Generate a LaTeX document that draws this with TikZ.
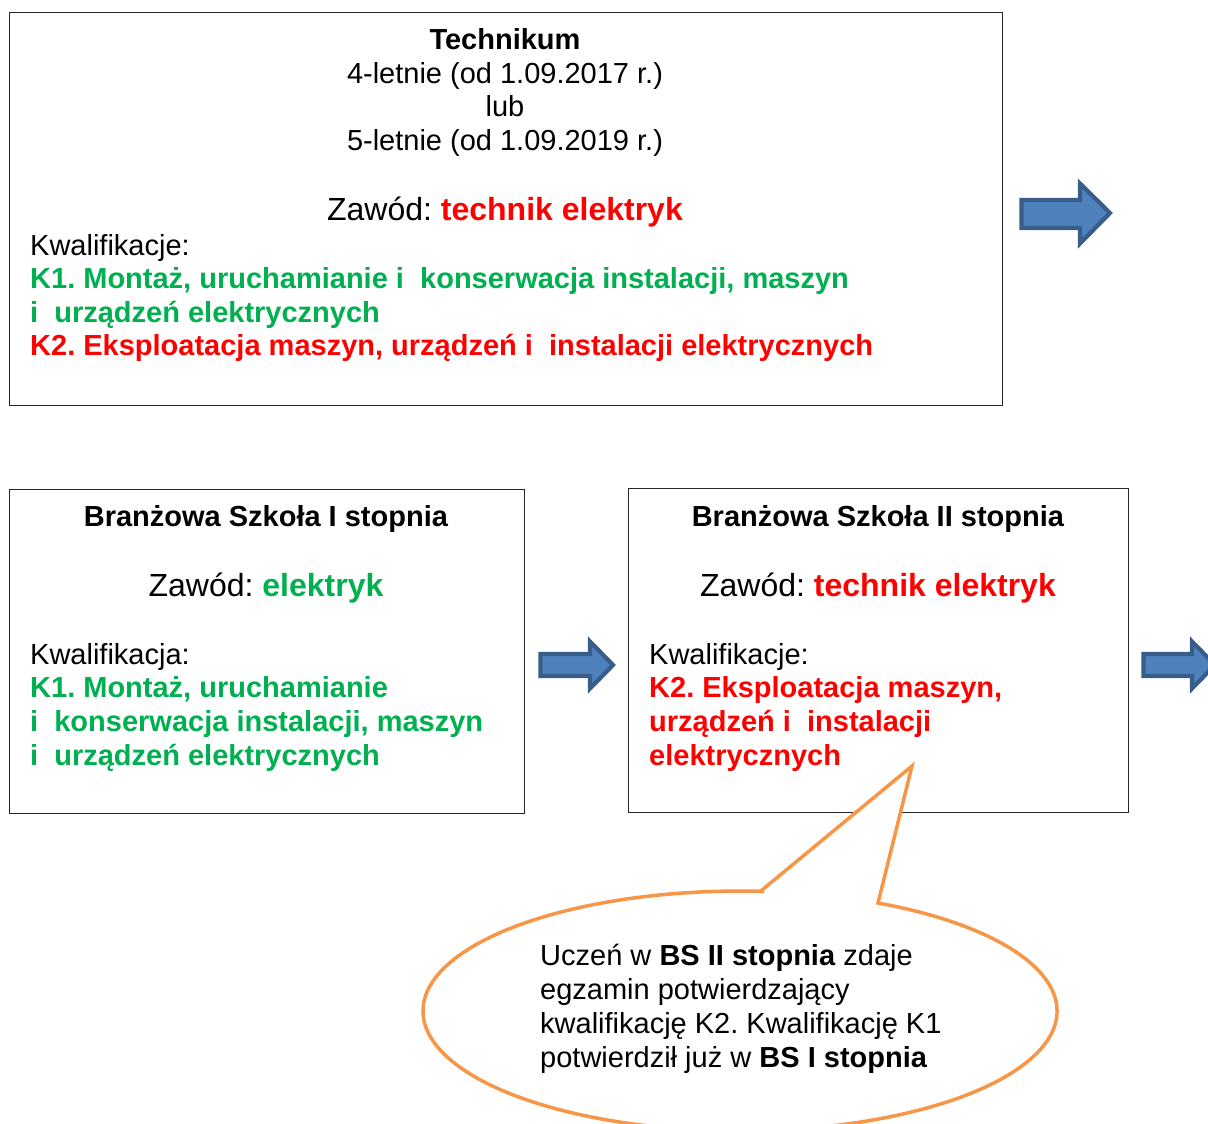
\documentclass[tikz,border=0pt]{standalone}
\usepackage{fontspec}
\setmainfont{Liberation Sans}
\definecolor{kgreen}{RGB}{0,176,80}
\definecolor{kred}{RGB}{255,0,0}
\definecolor{arrowfill}{RGB}{79,129,189}
\definecolor{arrowline}{RGB}{56,93,138}
\definecolor{callorange}{RGB}{247,150,70}
\begin{document}
\frenchspacing
\begin{tikzpicture}[x=1pt,y=-1pt,
 box/.style={draw=black!85, line width=1.2pt, inner sep=0pt, anchor=north west},
 txt/.style={inner sep=0pt, anchor=base, font=\fontsize{29}{34}\selectfont},
 txtl/.style={txt, anchor=base west},
 big/.style={inner sep=0pt, anchor=base, font=\fontsize{32}{36}\selectfont},
 blockarrow/.style={fill=arrowfill, draw=arrowline, line width=4.2pt, line join=miter},
 callout/.style={fill=white, draw=callorange, line width=3.5pt, line join=miter}]
\useasboundingbox (0,0) rectangle (1208,1124);
\clip (0,0) rectangle (1208,1124);

% boxes
\node[box, minimum width=993, minimum height=393] (tech) at (9,12) {};
\node[box, minimum width=515, minimum height=324] (bs1) at (9,489) {};
\node[box, minimum width=500, minimum height=324] (bs2) at (628,488) {};

% Technikum text
\node[txt] (t1) at (505,49.5) {\textbf{Technikum}};
\node[txt] (t2) at (505,83.5) {4-letnie (od 1.09.2017 r.)};
\node[txt] (t3) at (505,117) {lub};
\node[txt] (t4) at (505,150.5) {5-letnie (od 1.09.2019 r.)};
\node[big] (t5) at (505,220.5) {Zawód: \textcolor{kred}{\textbf{technik elektryk}}};
\node[txtl] (t6) at (30,255.5) {Kwalifikacje:};
\node[txtl, text=kgreen] (t7) at (30,288.5) {\textbf{K1. Montaż, uruchamianie i\ \ konserwacja instalacji, maszyn}};
\node[txtl, text=kgreen] (t8) at (30,322) {\textbf{i\ \ urządzeń elektrycznych}};
\node[txtl, text=kred] (t9) at (30,355.5) {\textbf{K2. Eksploatacja maszyn, urządzeń i\ \ instalacji elektrycznych}};

% BS I text
\node[txt] (a1) at (266,526.5) {\textbf{Branżowa Szkoła I stopnia}};
\node[big] (a2) at (266,596.5) {Zawód: \textcolor{kgreen}{\textbf{elektryk}}};
\node[txtl] (a3) at (30,664.5) {Kwalifikacja:};
\node[txtl, text=kgreen] (a4) at (30,697.5) {\textbf{K1. Montaż, uruchamianie}};
\node[txtl, text=kgreen] (a5) at (30,731.5) {\textbf{i\ \ konserwacja instalacji, maszyn}};
\node[txtl, text=kgreen] (a6) at (30,765.5) {\textbf{i\ \ urządzeń elektrycznych}};

% BS II text
\node[txt] (b1) at (878,526.5) {\textbf{Branżowa Szkoła II stopnia}};
\node[big] (b2) at (878,596.5) {Zawód: \textcolor{kred}{\textbf{technik elektryk}}};
\node[txtl] (b3) at (649,664.5) {Kwalifikacje:};
\node[txtl, text=kred] (b4) at (649,697.5) {\textbf{K2. Eksploatacja maszyn,}};
\node[txtl, text=kred] (b5) at (649,731.5) {\textbf{urządzeń i\ \ instalacji}};
\node[txtl, text=kred] (b6) at (649,765.5) {\textbf{elektrycznych}};

% block arrows
\draw[blockarrow] (1021.5,200) -- (1080,200) -- (1080,183.5) -- (1110,213) -- (1080,243.5) -- (1080,228) -- (1021.5,228) -- cycle;
\draw[blockarrow] (540.5,654) -- (590,654) -- (590,641.5) -- (613,665) -- (590,688.5) -- (590,676) -- (540.5,676) -- cycle;
\draw[blockarrow] (1143.5,654) -- (1192,654) -- (1192,641.5) -- (1215,665) -- (1192,688.5) -- (1192,676) -- (1143.5,676) -- cycle;

% callout
\draw[callout] (762,890) -- (912,766) -- (878,903) arc[start angle=64.2, end angle=-274, x radius=317pt, y radius=120pt] -- cycle;
\node[txtl] (c1) at (540,965.5) {Uczeń w \textbf{BS II stopnia} zdaje};
\node[txtl] (c2) at (540,999.5) {egzamin potwierdzający};
\node[txtl] (c3) at (540,1033.5) {kwalifikację K2. Kwalifikację K1};
\node[txtl] (c4) at (540,1067.5) {potwierdził już w \textbf{BS I stopnia}};
\end{tikzpicture}
\end{document}
